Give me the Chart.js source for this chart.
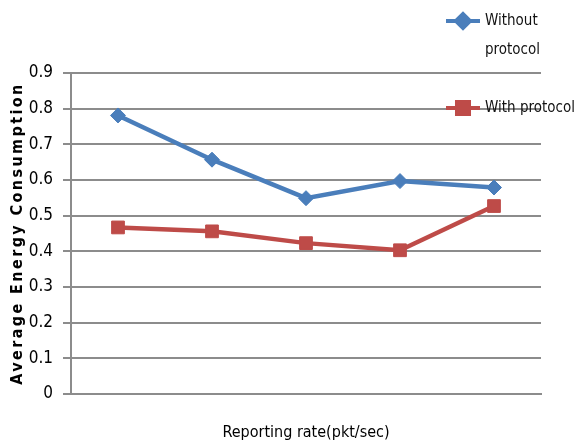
<!DOCTYPE html>
<html>
<head>
<meta charset="utf-8">
<script src="https://cdn.jsdelivr.net/npm/chart.js@4/dist/chart.umd.min.js"></script>
<style>
  html, body { margin: 0; padding: 0; background: #fff; }
  #wrap { width: 579px; height: 444px; position: relative; }
</style>
</head>
<body>
<div id="wrap"><canvas id="c" width="579" height="444"></canvas></div>
<script>
// Reporting-rate steps (not labelled on the axis)
const categories = ['1', '2', '3', '4', '5'];
// Average energy consumption per series
const withoutProtocol = [0.781, 0.657, 0.549, 0.597, 0.579];
const withProtocol = [0.467, 0.456, 0.423, 0.403, 0.527];
const yTicks = [0, 0.1, 0.2, 0.3, 0.4, 0.5, 0.6, 0.7, 0.8, 0.9];
const xTitle = 'Reporting rate(pkt/sec)';
const yTitle = 'Average Energy Consumption';

const BLUE = '#4a7ebb';
const RED = '#be4b48';
const NARROW = "'DejaVu Sans Condensed', 'Liberation Sans Narrow', 'Liberation Sans', sans-serif";

// Axis titles and legend drawn by hand for Excel-style placement
const decorations = {
  id: 'decorations',
  afterDraw(chart) {
    const ctx = chart.ctx;
    const area = chart.chartArea;
    ctx.save();

    // y title: bold, letter-spaced, rotated
    ctx.font = "bold 16px " + NARROW;
    const plainW = ctx.measureText(yTitle).width;
    const spacing = Math.max(0, (300 - plainW) / (yTitle.length - 1));
    ctx.letterSpacing = spacing.toFixed(2) + 'px';
    ctx.translate(18, (area.top + area.bottom) / 2);
    ctx.rotate(-Math.PI / 2);
    ctx.fillStyle = '#000';
    ctx.textAlign = 'center';
    ctx.textBaseline = 'middle';
    ctx.fillText(yTitle, 0, 0);
    ctx.restore();

    // x title
    ctx.save();
    ctx.font = "16px " + NARROW;
    ctx.fillStyle = '#000';
    ctx.textAlign = 'center';
    ctx.textBaseline = 'middle';
    ctx.fillText(xTitle, (area.left + area.right) / 2, 433);
    ctx.restore();

    // legend
    const entries = [
      { ds: chart.data.datasets[0], y: 21, lines: ['Without', 'protocol'] },
      { ds: chart.data.datasets[1], y: 108, lines: ['With protocol'] }
    ];
    ctx.save();
    entries.forEach(e => {
      ctx.strokeStyle = e.ds.borderColor;
      ctx.lineWidth = 4;
      ctx.beginPath();
      ctx.moveTo(446, e.y);
      ctx.lineTo(480, e.y);
      ctx.stroke();
      Chart.helpers.drawPoint(ctx, {
        pointStyle: e.ds.pointStyle,
        radius: e.ds.pointRadius - 0.5,
        rotation: 0,
        borderWidth: 1
      }, 463, e.y);
      ctx.fillStyle = e.ds.borderColor;
      ctx.fill();
      ctx.fillStyle = '#111';
      ctx.font = "15px " + NARROW;
      ctx.textAlign = 'left';
      ctx.textBaseline = 'middle';
      e.lines.forEach((t, i) => ctx.fillText(t, 485, e.y + i * 29));
    });
    ctx.restore();
  }
};

new Chart(document.getElementById('c'), {
  type: 'line',
  data: {
    labels: categories,
    datasets: [
      {
        label: 'Without protocol',
        data: withoutProtocol,
        borderColor: BLUE,
        backgroundColor: BLUE,
        borderWidth: 4.5,
        pointStyle: 'rectRot',
        pointRadius: 7.5,
        pointBorderWidth: 1,
        tension: 0
      },
      {
        label: 'With protocol',
        data: withProtocol,
        borderColor: RED,
        backgroundColor: RED,
        borderWidth: 4.5,
        pointStyle: 'rect',
        pointRadius: 9,
        pointBorderWidth: 1,
        tension: 0
      }
    ]
  },
  plugins: [decorations],
  options: {
    responsive: false,
    animation: false,
    layout: { padding: { top: 73, right: 38, left: 0, bottom: 0 } },
    plugins: {
      legend: { display: false },
      tooltip: { enabled: false },
      title: { display: false }
    },
    scales: {
      x: {
        offset: true,
        grid: { display: false },
        border: { display: true, color: '#8c8c8c', width: 2 },
        ticks: { display: false },
        afterFit(s) { s.height = 50; }
      },
      y: {
        min: 0,
        max: 0.9,
        afterBuildTicks(s) { s.ticks = yTicks.map(v => ({ value: v })); },
        grid: { color: '#8c8c8c', lineWidth: 2, tickLength: 8, drawTicks: true },
        border: { display: true, color: '#8c8c8c', width: 2 },
        ticks: {
          padding: 10,
          color: '#000',
          font: { size: 17, family: NARROW },
          callback: v => String(Math.round(v * 10) / 10)
        },
        afterFit(s) { s.width = 71; }
      }
    }
  }
});
</script>
</body>
</html>
